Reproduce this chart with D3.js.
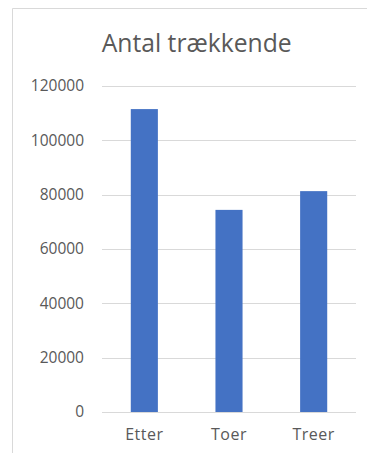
<!DOCTYPE html>
<html>
<head>
<meta charset="utf-8">
<script src="https://cdn.jsdelivr.net/npm/d3@7"></script>
<style>
  html, body { margin: 0; padding: 0; background: #fff; }
  svg { display: block; }
  text { font-family: "Open Sans", "Noto Sans", sans-serif; fill: #595959; }
</style>
</head>
<body>
<svg id="chart" width="367" height="453"></svg>
<script>
const categories = ["Etter", "Toer", "Treer"];
const values = [111500, 74400, 81300];
const tickValues = [0, 20000, 40000, 60000, 80000, 100000, 120000];
const title = "Antal trækkende";

const svg = d3.select("#chart");
const W = 367, H = 453;

// frame
svg.append("path")
  .attr("d", `M12.5,${H} L12.5,8.5 L${W},8.5`)
  .attr("fill", "none")
  .attr("stroke", "#d9d9d9")
  .attr("stroke-width", 1);

const x = d3.scaleBand()
  .domain(categories)
  .range([102, 356])
  .paddingInner(0.68)
  .paddingOuter(0.34);

const y = d3.scaleLinear()
  .domain([0, 120000])
  .range([412, 86]);

// gridlines
svg.append("g")
  .selectAll("line")
  .data(tickValues)
  .join("line")
  .attr("x1", 102).attr("x2", 356)
  .attr("y1", d => Math.round(y(d)) + 0.5)
  .attr("y2", d => Math.round(y(d)) + 0.5)
  .attr("stroke", "#d9d9d9")
  .attr("stroke-width", 1);

// y axis labels
const yAxis = svg.append("g")
  .attr("transform", "translate(84,0)")
  .call(d3.axisLeft(y).tickValues(tickValues).tickFormat(d3.format("d")).tickSize(0).tickPadding(0));
yAxis.select(".domain").remove();
yAxis.selectAll("text")
  .style("font-family", '"Open Sans", "Noto Sans", sans-serif')
  .style("font-size", "15.5px")
  .attr("fill", "#595959");

// bars
svg.append("g")
  .selectAll("rect")
  .data(categories.map((c, i) => ({ c, v: values[i] })))
  .join("rect")
  .attr("x", d => x(d.c))
  .attr("y", d => y(d.v))
  .attr("width", x.bandwidth())
  .attr("height", d => y(0) - y(d.v))
  .attr("fill", "#4472c4");

// x axis labels
const xAxis = svg.append("g")
  .attr("transform", "translate(0,412)")
  .call(d3.axisBottom(x).tickSize(0).tickPadding(17));
xAxis.select(".domain").remove();
xAxis.selectAll("text")
  .style("font-family", '"Open Sans", "Noto Sans", sans-serif')
  .style("font-size", "16px")
  .style("letter-spacing", "0.5px")
  .attr("fill", "#595959");

// title
svg.append("text")
  .attr("x", 196.7)
  .attr("y", 52)
  .attr("text-anchor", "middle")
  .attr("textLength", 190)
  .attr("lengthAdjust", "spacingAndGlyphs")
  .style("font-size", "26px")
  .text(title);
</script>
</body>
</html>
